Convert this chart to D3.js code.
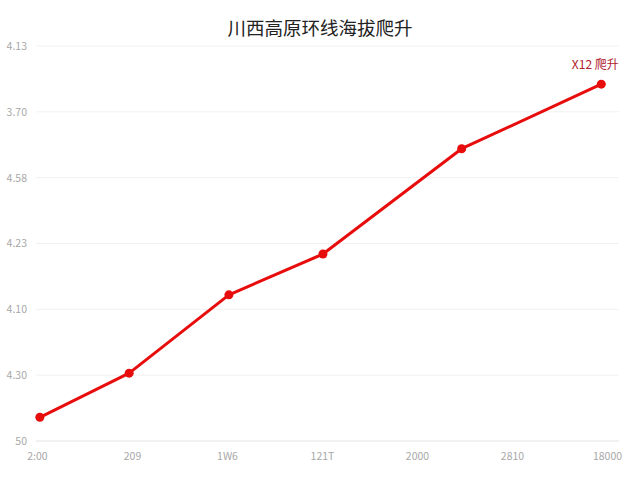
<!DOCTYPE html>
<html><head><meta charset="utf-8">
<script src="https://cdn.jsdelivr.net/npm/d3@7/dist/d3.min.js"></script>
<style>body{margin:0;background:#fff}svg{display:block}</style>
</head><body>
<svg id="c" width="640" height="480"></svg>
<script>
const title = "川西高原环线海拔爬升";
const yTickLabels = ["50", "4.30", "4.10", "4.23", "4.58", "3.70", "4.13"];
const xTickLabels = ["2:00", "209", "1W6", "121T", "2000", "2810", "18000"];
const pointX = [0.03, 0.97, 2.02, 3.01, 4.47, 5.94];
const pointY = [0.36, 1.03, 2.22, 2.84, 4.44, 5.42];
const annotation = "X12 爬升";

const svg = d3.select("#c");
const font = "'Noto Sans CJK SC','Noto Sans',sans-serif";
const x = d3.scaleLinear().domain([0, 6]).range([37, 607]);
const y = d3.scaleLinear().domain([0, 6]).range([441, 46]);

svg.append("text").attr("x", 320).attr("y", 35).attr("text-anchor", "middle")
  .attr("font-family", font).attr("font-size", 18.5).attr("fill", "#222").text(title);

// grid
svg.append("g").selectAll("line").data(d3.range(yTickLabels.length)).join("line")
  .attr("x1", 36).attr("x2", 619).attr("y1", d => y(d)).attr("y2", d => y(d))
  .attr("stroke", d => d === 0 ? "#e2e2e2" : "#f1f1f1").attr("stroke-width", 1);

const yAxis = d3.axisLeft(y).tickValues(d3.range(yTickLabels.length))
  .tickFormat(i => yTickLabels[i]).tickSize(0).tickPadding(0);
const gy = svg.append("g").attr("transform", "translate(27,0)").call(yAxis);
gy.select(".domain").remove();
gy.selectAll("text").attr("font-family", font).attr("font-size", 10.5).attr("fill", "#a8a8a8");

const xAxis = d3.axisBottom(x).tickValues(d3.range(xTickLabels.length))
  .tickFormat(i => xTickLabels[i]).tickSize(0).tickPadding(0);
const gx = svg.append("g").attr("transform", "translate(0,453)").call(xAxis);
gx.select(".domain").remove();
gx.selectAll("text").attr("font-family", font).attr("font-size", 10.5).attr("fill", "#a8a8a8");

const pts = pointX.map((v, i) => [v, pointY[i]]);
svg.append("path").datum(pts)
  .attr("d", d3.line().x(d => x(d[0])).y(d => y(d[1])))
  .attr("fill", "none").attr("stroke", "#e80d0d").attr("stroke-width", 3)
  .attr("stroke-linejoin", "round");
svg.append("g").selectAll("circle").data(pts).join("circle")
  .attr("cx", d => x(d[0])).attr("cy", d => y(d[1])).attr("r", 4.5).attr("fill", "#e80d0d");

const last = pts[pts.length - 1];
svg.append("text").attr("x", x(last[0]) - 6).attr("y", y(last[1]) - 15)
  .attr("text-anchor", "middle").attr("font-family", font).attr("font-size", 12)
  .attr("fill", "#b0202c").text(annotation);
</script>
</body></html>
